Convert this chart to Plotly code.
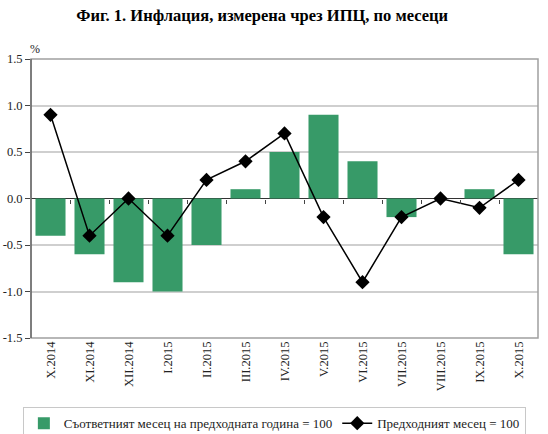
import plotly.graph_objects as go

# месеци
months = ["X.2014", "XI.2014", "XII.2014", "I.2015", "II.2015", "III.2015", "IV.2015",
          "V.2015", "VI.2015", "VII.2015", "VIII.2015", "IX.2015", "X.2015"]
# съответният месец на предходната година = 100
yoy = [-0.4, -0.6, -0.9, -1.0, -0.5, 0.1, 0.5, 0.9, 0.4, -0.2, 0.0, 0.1, -0.6]
# предходният месец = 100
mom = [0.9, -0.4, 0.0, -0.4, 0.2, 0.4, 0.7, -0.2, -0.9, -0.2, 0.0, -0.1, 0.2]
y_ticks = [1.5, 1.0, 0.5, 0.0, -0.5, -1.0, -1.5]
y_labels = ["1.5", "1.0", "0.5", "0.0", "-0.5", "-1.0", "-1.5"]

serif = "Liberation Serif, Times New Roman, serif"

fig = go.Figure()
fig.add_trace(go.Bar(
    x=months, y=yoy,
    name="Съответният месец на предходната година = 100",
    marker=dict(color="#379a68", line=dict(width=0)),
))
fig.add_trace(go.Scatter(
    x=months, y=mom, mode="lines+markers",
    name="Предходният месец = 100",
    line=dict(color="black", width=1.5),
    marker=dict(symbol="diamond", size=11, color="black"),
))
# ос с деленията по нулевата линия
fig.add_trace(go.Scatter(x=[0], y=[0], xaxis="x2", mode="markers",
                         marker=dict(opacity=0), showlegend=False, hoverinfo="skip"))

fig.update_layout(
    width=548, height=434,
    margin=dict(l=31, r=10, t=59, b=96, autoexpand=False),
    plot_bgcolor="white", paper_bgcolor="white",
    font=dict(family=serif, size=12, color="#222"),
    title=dict(text="<b>Фиг. 1. Инфлация, измерена чрез ИПЦ, по месеци</b>",
               x=0.456, xref="paper", xanchor="center", y=0.965, yanchor="middle",
               font=dict(size=16.5, color="black")),
    bargap=0.23,
    showlegend=True,
    legend=dict(orientation="h", x=0.48, xanchor="center", y=-0.248, yanchor="top",
                bordercolor="#c8c8c8", borderwidth=1, font=dict(size=13, color="#222"),
                traceorder="normal", itemwidth=30),
    xaxis=dict(type="category", range=[-0.5, 12.5], tickangle=-90, ticks="",
               showline=False, showgrid=False, tickfont=dict(size=12.5),
               automargin=False),
    xaxis2=dict(overlaying="x", anchor="free", position=0.5, range=[-0.5, 12.5],
                tickmode="array", tickvals=[i + 0.5 for i in range(12)],
                ticks="outside", ticklen=4, tickcolor="#444", showticklabels=False,
                showline=False, showgrid=False, zeroline=False, automargin=False),
    yaxis=dict(range=[-1.5, 1.5], tickvals=y_ticks, ticktext=y_labels,
               ticks="outside", ticklen=5, tickcolor="#444",
               showline=False, showgrid=True, gridcolor="#cfcfcf", gridwidth=1.5,
               zeroline=True, zerolinecolor="#333", zerolinewidth=1.2,
               tickfont=dict(size=12.5), automargin=False),
)
# рамка на графиката
fig.add_shape(type="rect", xref="paper", yref="paper", x0=0, x1=1, y0=0, y1=1,
              line=dict(color="#a0a0a0", width=1.5), layer="above")
fig.add_shape(type="line", xref="paper", yref="paper", x0=0, x1=0, y0=0, y1=1,
              line=dict(color="#444", width=1), layer="above")
fig.add_annotation(text="%", xref="paper", yref="paper", x=-0.006, y=1.068,
                   showarrow=False, font=dict(size=12, color="#222"))

# без отстъпа на страницата и без лентата с инструменти
fig.write_html("out.html", config={"displayModeBar": False},
               post_script="document.body.style.margin = '0px';")
